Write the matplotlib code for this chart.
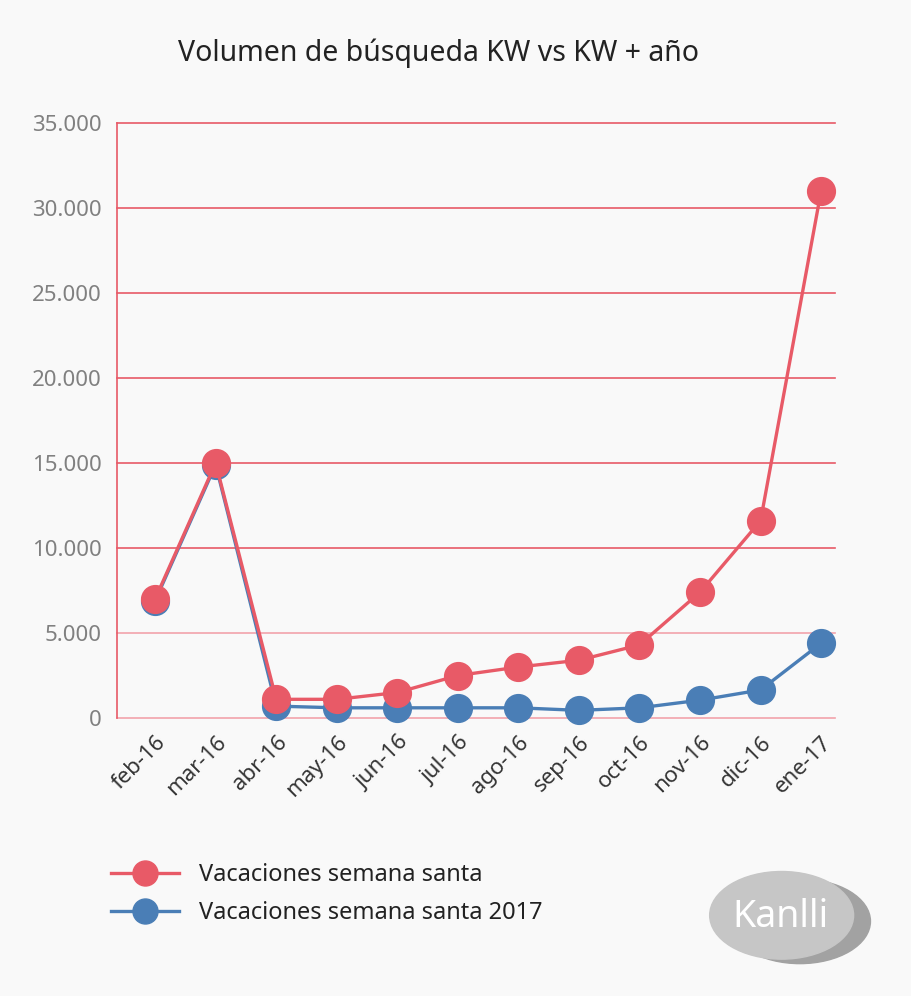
import matplotlib.pyplot as plt
from matplotlib.patches import Ellipse

months = ['feb-16', 'mar-16', 'abr-16', 'may-16', 'jun-16', 'jul-16',
          'ago-16', 'sep-16', 'oct-16', 'nov-16', 'dic-16', 'ene-17']
santa = [7000, 15000, 1100, 1100, 1500, 2500, 3000, 3400, 4300, 7400, 11600, 31000]
santa_2017 = [6900, 14900, 700, 600, 600, 600, 600, 450, 600, 1050, 1650, 4400]
yticks = [0, 5000, 10000, 15000, 20000, 25000, 30000, 35000]
ylabels = ['0', '5.000', '10.000', '15.000', '20.000', '25.000', '30.000', '35.000']

red = '#e85a67'
blue = '#4a7eb6'
bg = '#f9f9f9'
plt.rcParams['font.family'] = ['Noto Sans', 'DejaVu Sans']

fig = plt.figure(figsize=(9.11, 9.96), dpi=100, facecolor=bg)
ax = fig.add_axes([0.1284, 0.2791, 0.7882, 0.5974])
ax.set_facecolor(bg)

x = list(range(len(months)))
l2, = ax.plot(x, santa_2017, color=blue, lw=2.4, marker='o', ms=20, zorder=3, clip_on=False)
l1, = ax.plot(x, santa, color=red, lw=2.4, marker='o', ms=20, zorder=4, clip_on=False)

ax.set_ylim(0, 35000)
ax.set_xlim(-0.63, 11.23)
ax.set_yticks(yticks)
ax.set_yticklabels(ylabels, color='#808080', fontsize=16)
for t in yticks:
    c = '#f2a3ab' if t <= 5000 else red
    ax.axhline(t, color=c, lw=1.2, zorder=1, clip_on=False)
ax.set_xticks(x)
ax.set_xticklabels(months, rotation=45, ha='right', rotation_mode='anchor',
                   fontsize=16, color='#333333')
ax.tick_params(length=0, axis='y', pad=11)
ax.tick_params(length=0, axis='x', pad=10)
for s in ['top', 'right', 'bottom']:
    ax.spines[s].set_visible(False)
ax.spines['left'].set_color(red)
ax.spines['left'].set_linewidth(1.2)

fig.text(0.481, 0.947, 'Volumen de búsqueda KW vs KW + año', ha='center', va='center',
         fontsize=20.5, color='#222222')

fig.legend([l1, l2], ['Vacaciones semana santa', 'Vacaciones semana santa 2017'],
           loc='upper left', bbox_to_anchor=(0.098, 0.155), frameon=False,
           fontsize=17, labelcolor='#222222', handlelength=2.9, handletextpad=0.85,
           labelspacing=0.6, markerscale=0.9)

# logo
fig.patches.append(Ellipse((0.878, 0.075), 0.155, 0.085, color='#a2a2a2',
                           transform=fig.transFigure, figure=fig))
fig.patches.append(Ellipse((0.858, 0.081), 0.158, 0.088, color='#c6c6c6',
                           transform=fig.transFigure, figure=fig))
fig.text(0.857, 0.079, 'Kanlli', ha='center', va='center', fontsize=27,
         fontweight='bold', color='white')

fig.savefig('out.png', dpi=100, facecolor=bg)
